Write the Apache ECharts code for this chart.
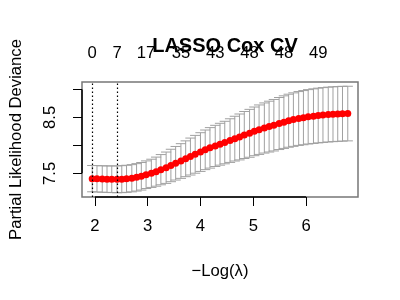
<!DOCTYPE html>
<html><head><meta charset="utf-8">
<script src="https://cdn.jsdelivr.net/npm/echarts@6/dist/echarts.min.js"></script>
<style>html,body{margin:0;padding:0;background:#fff}#c{width:400px;height:300px}</style>
</head><body><div id="c"></div>
<script>
// -log(lambda) for each fitted lambda
const logLambda = [1.95,2.04,2.14,2.23,2.32,2.42,2.51,2.60,2.70,2.79,2.88,2.97,3.07,3.16,3.25,3.35,3.44,3.53,3.63,3.72,3.81,3.90,4.00,4.09,4.18,4.28,4.37,4.46,4.56,4.65,4.74,4.83,4.93,5.02,5.11,5.21,5.30,5.39,5.49,5.58,5.67,5.76,5.86,5.95,6.04,6.14,6.23,6.32,6.42,6.51,6.60,6.69,6.79];
// mean cross-validated partial likelihood deviance
const cvm = [7.405,7.402,7.398,7.396,7.394,7.393,7.396,7.402,7.412,7.428,7.447,7.475,7.500,7.530,7.565,7.600,7.640,7.680,7.720,7.760,7.800,7.840,7.880,7.920,7.955,7.990,8.020,8.050,8.085,8.120,8.150,8.185,8.215,8.250,8.280,8.310,8.335,8.360,8.390,8.415,8.440,8.460,8.480,8.495,8.510,8.522,8.533,8.542,8.550,8.556,8.561,8.565,8.568];
// standard error (half-width of error bars)
const cvsd = [0.235,0.236,0.236,0.237,0.238,0.240,0.241,0.242,0.243,0.245,0.246,0.247,0.252,0.260,0.270,0.280,0.290,0.300,0.310,0.320,0.330,0.338,0.346,0.354,0.362,0.368,0.374,0.380,0.390,0.400,0.410,0.420,0.428,0.435,0.442,0.448,0.454,0.460,0.465,0.470,0.474,0.478,0.481,0.484,0.486,0.488,0.489,0.490,0.490,0.490,0.490,0.490,0.488];
const xTicks = [2,3,4,5,6];
const yTicks = [7.5,8.0,8.5,9.0];
const yTickLabels = [7.5,8.5];
const topPos = [1.95,2.42,2.97,3.63,4.28,4.93,5.58,6.23];
const topLabels = ['0','7','17','35','43','48','48','49'];
const lambdaMin = 1.95;
const lambda1se = 2.42;

const upper = cvm.map((v,i)=>v+cvsd[i]);
const lower = cvm.map((v,i)=>v-cvsd[i]);
const xr = [Math.min(...logLambda), Math.max(...logLambda)];
const yr = [Math.min(...lower), Math.max(...upper)];
const xPad = (xr[1]-xr[0])*0.04, yPad = (yr[1]-yr[0])*0.04;
const xMin = xr[0]-xPad, xMax = xr[1]+xPad, yMin = yr[0]-yPad, yMax = yr[1]+yPad;
const barW = (xr[1]-xr[0])*0.02;

const FONT = 'Liberation Sans';
const FS = 16.67;
const topMap = {};
topPos.forEach((p,i)=>{topMap[p.toFixed(2)] = topLabels[i];});

const chart = echarts.init(document.getElementById('c'), null, {renderer:'canvas'});
chart.setOption({
  animation:false,
  backgroundColor:'#fff',
  title:{text:'LASSO Cox CV', left:220, top:31, textAlign:'center',
    textStyle:{fontFamily:FONT, fontSize:20, fontWeight:'bold', color:'#000'}},
  grid:{left:82, right:42, top:82, bottom:103, show:true, borderColor:'#777', borderWidth:1.5, backgroundColor:'transparent'},
  xAxis:[{
    type:'value', min:xMin, max:xMax, position:'bottom',
    name:'\u2212Log(\u03bb)', nameLocation:'middle', nameGap:66,
    nameTextStyle:{fontFamily:FONT, fontSize:FS, color:'#000'},
    axisLine:{show:false}, splitLine:{show:false},
    axisTick:{show:true, length:9, customValues:xTicks, lineStyle:{color:'#000', width:1}},
    axisLabel:{customValues:xTicks, margin:21, fontFamily:FONT, fontSize:FS, color:'#000'}
  },{
    type:'value', min:xMin, max:xMax, position:'top',
    axisLine:{show:false}, splitLine:{show:false}, axisTick:{show:false},
    axisLabel:{customValues:topPos, margin:20, fontFamily:FONT, fontSize:FS, color:'#000',
      formatter:(v)=>topMap[Number(v).toFixed(2)] || ''}
  }],
  yAxis:{
    type:'value', min:yMin, max:yMax,
    name:'Partial Likelihood Deviance', nameLocation:'middle', nameRotate:90, nameGap:57,
    nameTextStyle:{fontFamily:FONT, fontSize:FS, color:'#000'},
    axisLine:{show:false}, splitLine:{show:false},
    axisTick:{show:true, length:9, customValues:yTicks, lineStyle:{color:'#000', width:1}},
    axisLabel:{customValues:yTickLabels, rotate:90, margin:23, fontFamily:FONT, fontSize:FS, color:'#000',
      formatter:(v)=>Number(v).toFixed(1)}
  },
  series:[{
    type:'custom', name:'errbars', xAxisIndex:0, yAxisIndex:0,
    data: logLambda.map((x,i)=>[x, lower[i], upper[i]]),
    encode:{x:0, y:[1,2]},
    renderItem:function(params, api){
      const x = api.value(0), lo = api.value(1), hi = api.value(2);
      const t = api.coord([x,hi]), b = api.coord([x,lo]);
      const tl = api.coord([x-barW,hi]), tr = api.coord([x+barW,hi]);
      const bl = api.coord([x-barW,lo]), br = api.coord([x+barW,lo]);
      const st = {stroke:'#A0A0A0', lineWidth:1, fill:null};
      return {type:'group', children:[
        {type:'line', shape:{x1:t[0],y1:t[1],x2:b[0],y2:b[1]}, style:st},
        {type:'line', shape:{x1:tl[0],y1:tl[1],x2:tr[0],y2:tr[1]}, style:st},
        {type:'line', shape:{x1:bl[0],y1:bl[1],x2:br[0],y2:br[1]}, style:st}
      ]};
    },
    z:2, silent:true
  },{
    type:'scatter', name:'cvm', xAxisIndex:0, yAxisIndex:0,
    data: logLambda.map((x,i)=>[x, cvm[i]]),
    symbol:'circle', symbolSize:7, itemStyle:{color:'#FF0000', opacity:1}, z:3, silent:true,
    markLine:{silent:true, symbol:['none','none'], label:{show:false},
      lineStyle:{color:'#000', type:[1.5,2.5], width:1.2},
      data:[{xAxis:lambdaMin},{xAxis:lambda1se}]}
  },{
    type:'line', name:'axisSegments', xAxisIndex:0, yAxisIndex:0, data:[], silent:true,
    markLine:{silent:true, symbol:['none','none'], label:{show:false},
      lineStyle:{color:'#000', type:'solid', width:1.5},
      data:[
        [{coord:[xMin, yTicks[0]]},{coord:[xMin, yTicks[yTicks.length-1]]}],
        [{coord:[xTicks[0], yMin]},{coord:[xTicks[xTicks.length-1], yMin]}]
      ]}
  }]
});
</script></body></html>
